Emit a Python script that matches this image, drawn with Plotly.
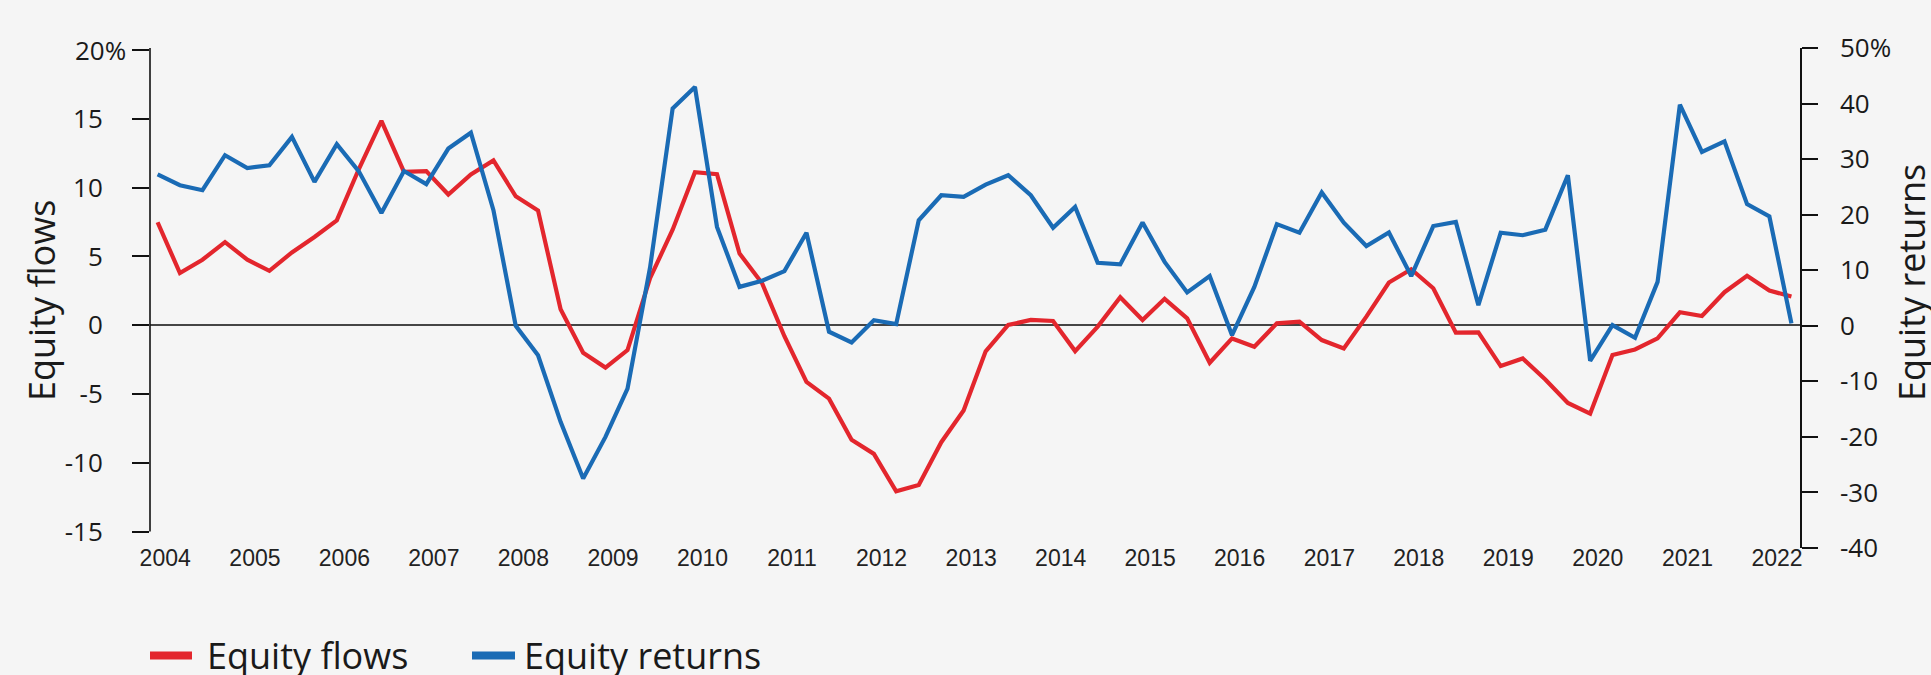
import plotly.graph_objects as go
import pandas as pd

# Quarterly observation dates (2003-Q4 .. 2022-Q1), one per quarter
dates = [d.strftime("%Y-%m-%d") for d in pd.date_range("2003-12-01", periods=74, freq="3MS")]

equity_flows = [
    7.48, 3.79, 4.76, 6.04, 4.76, 3.95, 5.29, 6.41, 7.62, 11.35,
    14.85, 11.15, 11.2, 9.5, 10.95, 11.97, 9.37, 8.33, 1.16, -2.0,
    -3.08, -1.81, 3.42, 6.94, 11.12, 10.97, 5.21, 3.05, -0.8, -4.12,
    -5.34, -8.33, -9.35, -12.07, -11.61, -8.5, -6.19, -1.9, 0.02, 0.38,
    0.31, -1.88, -0.1, 2.03, 0.38, 1.92, 0.5, -2.73, -0.96, -1.57,
    0.14, 0.26, -1.08, -1.69, 0.62, 3.1, 4.07, 2.69, -0.54, -0.52,
    -2.97, -2.42, -3.95, -5.65, -6.43, -2.17, -1.76, -0.96, 0.94, 0.67,
    2.4, 3.59, 2.52, 2.08,
]

equity_returns = [
    27.24, 25.3, 24.4, 30.7, 28.4, 28.9, 34.0, 25.9, 32.7, 27.8,
    20.3, 27.85, 25.5, 31.9, 34.75, 20.8, 0.0, -5.3, -17.3, -27.5,
    -20.0, -11.3, 10.5, 39.1, 43.0, 17.8, 7.0, 8.1, 9.85, 16.75,
    -1.07, -3.0, 1.0, 0.3, 19.0, 23.5, 23.2, 25.4, 27.1, 23.5,
    17.65, 21.4, 11.35, 11.05, 18.6, 11.5, 6.0, 8.95, -1.7, 7.0,
    18.3, 16.75, 24.0, 18.55, 14.35, 16.8, 8.95, 17.95, 18.7, 3.7,
    16.75, 16.3, 17.3, 27.1, -6.3, 0.13, -2.15, 7.9, 39.8, 31.3,
    33.2, 21.9, 19.7, 0.43,
]

year_labels = [str(y) for y in range(2004, 2023)]
year_ticks = [f"{y}-01-01" for y in range(2004, 2023)]

left_ticks = [-15, -10, -5, 0, 5, 10, 15, 20]
left_text = ["-15", "-10", "-5", "0", "5", "10", "15", ""]
right_ticks = [-40, -30, -20, -10, 0, 10, 20, 30, 40, 50]
right_text = ["-40", "-30", "-20", "-10", "0", "10", "20", "30", "40", "50%"]

RED = "#E3262D"
BLUE = "#1A6BB5"
BG = "#F5F5F5"
TXT = "#1a1a1a"
SANS = "Open Sans"

fig = go.Figure()
fig.add_trace(go.Scatter(x=dates, y=equity_flows, name="Equity flows", mode="lines",
                         line=dict(color=RED, width=4.2), yaxis="y", showlegend=False))
fig.add_trace(go.Scatter(x=dates, y=equity_returns, name="Equity returns", mode="lines",
                         line=dict(color=BLUE, width=4.2), yaxis="y2", showlegend=False))

W, H = 1931, 675
L, R, T, B = 150, 131, 48, 127
PW = W - L - R
PH = H - T - B


def px_x(px):
    return (px - L) / PW


def px_y(py):
    return (H - B - py) / PH


fig.update_layout(
    width=W, height=H,
    paper_bgcolor=BG, plot_bgcolor=BG,
    margin=dict(l=L, r=R, t=T, b=B, pad=0),
    showlegend=False,
    font=dict(family=SANS, color=TXT),
    xaxis=dict(
        type="date", range=["2003-10-31", "2022-04-05"],
        tickvals=year_ticks, ticktext=year_labels,
        showgrid=False, zeroline=False, showline=False, ticks="",
        tickfont=dict(family="Liberation Sans", size=23, color="#222222"),
        ticklabelstandoff=-6,
    ),
    yaxis=dict(
        range=[-16.19, 20.145], tickvals=left_ticks, ticktext=left_text,
        showgrid=False, showline=False,
        zeroline=True, zerolinecolor="#454545", zerolinewidth=2,
        ticks="outside", ticklen=17, tickwidth=1.6, tickcolor="#111111",
        tickfont=dict(family=SANS, size=26, color=TXT),
        ticklabelstandoff=24,
    ),
    yaxis2=dict(
        range=[-40, 50], tickvals=right_ticks, ticktext=right_text,
        overlaying="y", side="right", anchor="x",
        showgrid=False, zeroline=False,
        showline=True, linecolor="#111111", linewidth=1.6,
        ticks="outside", ticklen=16, tickwidth=1.6, tickcolor="#111111",
        tickfont=dict(family=SANS, size=26, color=TXT),
        ticklabelstandoff=17,
    ),
)

# left axis line (stops at the -15 tick)
fig.add_shape(type="line", xref="paper", yref="y", x0=0, x1=0, y0=-15, y1=20.145,
              line=dict(color="#111111", width=1.6))

# top label of left axis, with its % overhanging
fig.add_annotation(text="20%", xref="paper", yref="y", x=px_x(128), y=20,
                   xanchor="right", yanchor="middle", showarrow=False,
                   font=dict(family=SANS, size=26, color=TXT))

# axis titles
fig.add_annotation(text="Equity flows", xref="paper", yref="paper",
                   x=px_x(41), y=px_y(301), textangle=-90,
                   xanchor="center", yanchor="middle", showarrow=False,
                   font=dict(family=SANS, size=36, color=TXT))
fig.add_annotation(text="Equity returns", xref="paper", yref="paper",
                   x=px_x(1911), y=px_y(283), textangle=-90,
                   xanchor="center", yanchor="middle", showarrow=False,
                   font=dict(family=SANS, size=36, color=TXT))

# legend (swatches + labels)
legend_items = [("Equity flows", RED, 150, 192, 205), ("Equity returns", BLUE, 472, 515, 522)]
for label, col, sx0, sx1, tx in legend_items:
    fig.add_shape(type="line", xref="paper", yref="paper",
                  x0=px_x(sx0), x1=px_x(sx1), y0=px_y(655.5), y1=px_y(655.5),
                  line=dict(color=col, width=8))
    fig.add_annotation(text=label, xref="paper", yref="paper",
                       x=px_x(tx), y=px_y(655), xanchor="left", yanchor="middle",
                       showarrow=False, font=dict(family=SANS, size=36, color=TXT))

fig.write_html(
    "out.html",
    config={"displayModeBar": False},
    post_script="document.body.style.margin='0';document.body.style.background='#F5F5F5';",
)
